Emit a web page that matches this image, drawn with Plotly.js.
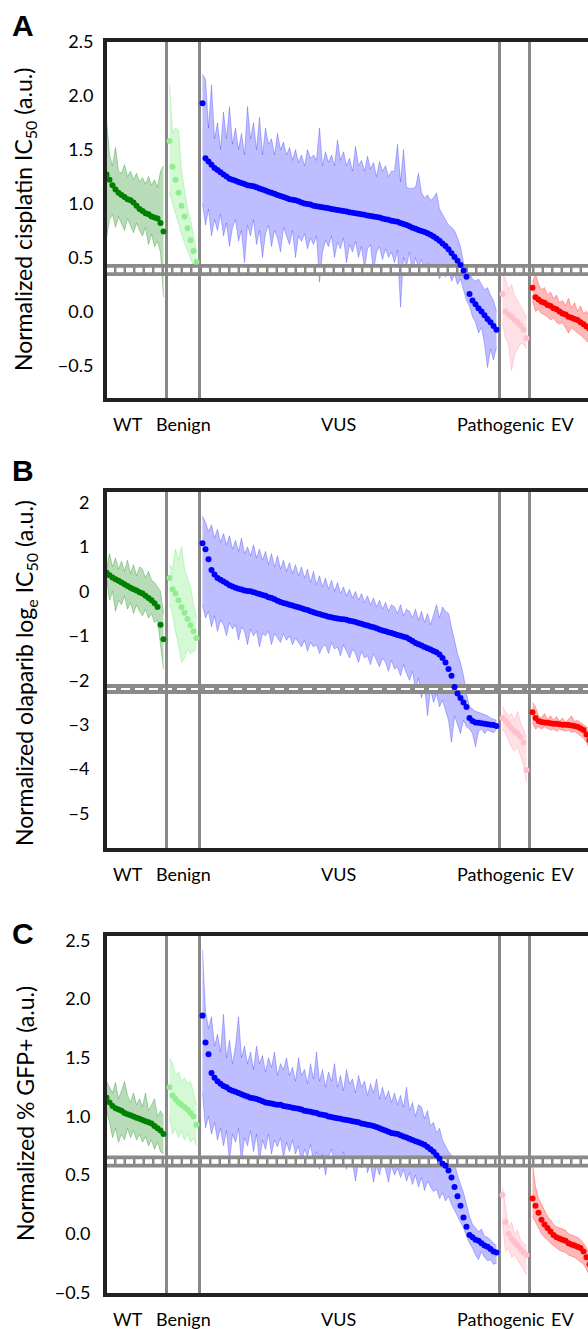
<!DOCTYPE html>
<html><head><meta charset="utf-8">
<script src="https://cdn.plot.ly/plotly-3.0.1.min.js"></script>
<style>html,body{margin:0;padding:0;overflow:hidden;background:#fff;width:588px;height:1329px}#chart{width:640px;height:1329px}</style>
</head><body><div id="chart"></div><script>
// ---------------- DATA ----------------
const categories = ['WT','Benign','VUS','Pathogenic','EV'];
const yTitles = ['Normalized cisplatin IC<sub>50</sub> (a.u.)','Normalized olaparib log<sub>e</sub> IC<sub>50</sub> (a.u.)','Normalized % GFP+ (a.u.)'];
const panelLetters = ['A','B','C'];
const yTicksA = [-0.5,0,0.5,1,1.5,2,2.5];
const yTicksB = [-5,-4,-3,-2,-1,0,1,2];
const yTicksC = [-0.5,0,0.5,1,1.5,2,2.5];
const thresholds = [0.3835,-2.198,0.616];

// Panel A: cisplatin
const A_WT_mean=[1.27,1.22,1.17,1.13,1.10,1.08,1.06,1.04,1.03,1.01,0.98,0.95,0.93,0.91,0.90,0.88,0.87,0.86,0.82,0.74];
const A_WT_hi=[1.78,1.45,1.35,1.52,1.3,1.28,1.36,1.25,1.3,1.22,1.28,1.2,1.24,1.18,1.25,1.17,1.22,1.15,1.30,1.35];
const A_WT_lo=[0.68,0.85,0.9,0.78,0.88,0.82,0.75,0.86,0.8,0.73,0.82,0.75,0.7,0.78,0.62,0.72,0.6,0.65,0.55,0.13];
const A_BE_mean=[1.58,1.34,1.22,1.1,0.98,0.88,0.77,0.66,0.56,0.46];
const A_BE_hi=[2.1,1.65,1.7,1.68,1.3,1.1,0.95,0.85,0.7,0.55];
const A_BE_lo=[1.1,1.0,0.9,0.8,0.72,0.64,0.56,0.48,0.42,0.38];
const A_VUS_mean=[1.93,1.42,1.39,1.36,1.33,1.31,1.29,1.27,1.25,1.23,
 1.22,1.21,1.20,1.19,1.18,1.17,1.165,1.16,1.15,1.14,
 1.13,1.12,1.11,1.10,1.09,1.08,1.07,1.06,1.05,1.04,
 1.035,1.03,1.02,1.01,1.00,0.995,0.99,0.98,0.975,0.97,
 0.965,0.96,0.955,0.95,0.945,0.94,0.935,0.93,0.925,0.92,
 0.915,0.91,0.905,0.90,0.895,0.89,0.885,0.88,0.875,0.87,
 0.86,0.855,0.85,0.84,0.835,0.83,0.82,0.81,0.80,0.79,
 0.775,0.765,0.755,0.745,0.735,0.725,0.71,0.695,0.675,0.655,
 0.63,0.605,0.575,0.54,0.505,0.47,0.43,0.38,0.32,0.16,
 0.10,0.065,0.03,0.0,-0.035,-0.07,-0.10,-0.135,-0.17];
const A_VUS_hi=[2.2,2.15,1.7,2.1,1.6,1.75,1.5,1.85,1.6,1.9,
 1.55,1.7,1.5,1.65,1.45,1.9,1.6,1.75,1.5,1.8,
 1.45,1.7,1.55,1.6,1.45,1.65,1.5,1.57,1.45,1.52,
 1.4,1.5,1.38,1.45,1.35,1.5,1.42,1.45,1.4,1.7,
 1.35,1.48,1.38,1.45,1.35,1.59,1.4,1.48,1.35,1.42,
 1.3,1.53,1.35,1.4,1.3,1.44,1.32,1.38,1.25,1.39,
 1.3,1.35,1.25,1.3,1.3,1.55,1.2,1.5,1.15,1.14,
 1.14,1.15,1.28,1.1,1.05,1.08,1.03,1.05,1.1,0.95,
 0.9,0.85,0.8,0.78,0.75,0.68,0.6,0.45,0.38,0.35,
 0.3,0.28,0.3,0.25,0.2,0.22,0.15,0.1,0.0];
const A_VUS_lo=[1.0,0.8,0.95,0.7,0.85,0.75,0.9,0.7,0.82,0.6,
 0.78,0.85,0.65,0.75,0.45,0.8,0.7,0.85,0.62,0.75,
 0.5,0.72,0.8,0.6,0.75,0.68,0.55,0.78,0.7,0.62,
 0.75,0.5,0.7,0.65,0.72,0.58,0.68,0.62,0.7,0.27,
 0.55,0.66,0.6,0.7,0.5,0.64,0.58,0.68,0.45,0.62,
 0.55,0.65,0.5,0.6,0.4,0.58,0.62,0.36,0.55,0.6,
 0.48,0.58,0.5,0.55,0.45,0.57,0.04,0.5,0.42,0.55,
 0.35,0.5,0.4,0.48,0.38,0.45,0.4,0.35,0.42,0.3,
 0.38,0.32,0.4,0.28,0.35,0.25,0.3,0.2,0.1,0.05,
 -0.05,-0.1,-0.2,-0.15,-0.3,-0.52,-0.35,-0.45,-0.33];
const A_PA_mean=[0.16,0.0,-0.03,-0.05,-0.08,-0.1,-0.13,-0.17,-0.25];
const A_PA_hi=[0.35,0.3,0.2,0.25,0.15,0.1,0.05,0.0,-0.05];
const A_PA_lo=[-0.1,-0.25,-0.3,-0.55,-0.4,-0.35,-0.3,-0.3,-0.35];
const A_EV_mean=[0.22,0.13,0.11,0.09,0.08,0.06,0.05,0.03,0.02,0.0,-0.02,-0.03,-0.05,-0.06,-0.07,-0.08,-0.1,-0.12,-0.14,-0.16,-0.2,-0.25];
const A_EV_hi=[0.27,0.35,0.25,0.2,0.22,0.15,0.18,0.12,0.15,0.08,0.1,0.05,0.12,0.03,0.08,0.0,0.05,-0.02,0.0,-0.05,-0.1,-0.15];
const A_EV_lo=[0.1,0.0,0.02,-0.02,-0.03,-0.05,-0.08,-0.06,-0.1,-0.12,-0.1,-0.15,-0.2,-0.15,-0.18,-0.2,-0.22,-0.25,-0.28,-0.3,-0.32,-0.35];

// Panel B: olaparib
const B_WT_mean=[0.42,0.36,0.31,0.27,0.24,0.2,0.16,0.12,0.08,0.05,0.02,-0.02,-0.05,-0.1,-0.15,-0.2,-0.27,-0.35,-0.75,-1.08];
const B_WT_hi=[0.5,0.85,0.55,0.75,0.5,0.68,0.45,0.7,0.4,0.6,0.35,0.55,0.5,0.3,0.45,0.25,0.2,0.1,0.0,-0.5];
const B_WT_lo=[0.3,-0.2,0.0,-0.45,-0.2,-0.3,-0.1,-0.4,-0.25,-0.5,-0.3,-0.45,-0.55,-0.4,-0.6,-0.5,-0.7,-0.65,-1.2,-1.75];
const B_BE_mean=[0.3,0.05,-0.05,-0.2,-0.35,-0.48,-0.62,-0.76,-0.9,-1.05];
const B_BE_hi=[0.6,0.5,0.95,0.7,1.0,0.5,0.3,0.1,-0.3,-0.6];
const B_BE_lo=[-0.3,-0.5,-0.9,-1.2,-1.6,-1.5,-1.3,-1.4,-1.35,-1.3];
const B_VUS_mean=[1.08,0.95,0.72,0.48,0.38,0.3,0.26,0.22,0.18,0.14,
 0.11,0.08,0.06,0.04,0.02,0.01,0.0,-0.02,-0.04,-0.06,
 -0.08,-0.1,-0.13,-0.15,-0.18,-0.21,-0.24,-0.26,-0.28,-0.3,
 -0.32,-0.34,-0.36,-0.38,-0.4,-0.42,-0.45,-0.47,-0.49,-0.51,
 -0.53,-0.55,-0.57,-0.58,-0.6,-0.61,-0.62,-0.63,-0.64,-0.66,
 -0.67,-0.69,-0.71,-0.73,-0.75,-0.77,-0.79,-0.81,-0.83,-0.86,
 -0.88,-0.9,-0.92,-0.94,-0.96,-0.98,-1.0,-1.02,-1.04,-1.08,
 -1.12,-1.16,-1.19,-1.22,-1.25,-1.28,-1.31,-1.34,-1.37,-1.42,
 -1.5,-1.6,-1.75,-1.9,-2.15,-2.3,-2.4,-2.5,-2.6,-2.85,
 -2.92,-2.95,-2.96,-2.97,-2.98,-2.99,-3.0,-3.01,-3.03];
const B_VUS_hi=[1.7,1.55,1.35,1.5,1.2,1.4,1.1,1.3,1.05,1.25,
 0.95,1.15,0.9,1.2,0.85,1.0,0.8,1.05,0.75,0.95,
 0.7,0.9,0.6,0.85,0.55,0.8,0.5,0.7,0.45,0.65,
 0.4,0.6,0.35,0.55,0.3,0.5,0.2,0.45,0.15,0.35,
 0.1,0.3,0.05,0.25,0.0,0.2,-0.05,0.1,-0.1,0.05,
 -0.15,0.0,-0.2,-0.05,-0.25,-0.1,-0.3,-0.15,-0.35,-0.2,
 -0.4,-0.25,-0.45,-0.3,-0.35,-0.5,-0.3,-0.55,-0.4,-0.45,
 -0.6,-0.4,-0.65,-0.45,-0.7,-0.5,-0.75,-0.5,-0.3,-0.6,
 -0.35,-0.45,-0.5,-0.8,-1.1,-1.4,-1.6,-1.9,-2.3,-2.6,
 -2.65,-2.7,-2.72,-2.75,-2.78,-2.8,-2.85,-2.88,-2.9];
const B_VUS_lo=[-0.3,-0.6,-0.45,-0.8,-0.55,-0.9,-0.65,-0.75,-1.0,-0.7,
 -0.85,-0.75,-1.1,-0.8,-0.9,-1.2,-0.85,-1.0,-0.9,-1.25,
 -0.95,-1.0,-0.9,-1.2,-0.95,-1.05,-1.15,-0.95,-1.1,-1.0,
 -1.2,-1.05,-1.15,-1.25,-1.1,-1.35,-1.15,-1.25,-1.2,-1.4,
 -1.25,-1.2,-1.4,-1.15,-1.3,-1.25,-1.45,-1.2,-1.35,-1.5,
 -1.3,-1.4,-1.6,-1.35,-1.5,-1.45,-1.65,-1.4,-1.55,-1.7,
 -1.5,-1.6,-1.8,-1.55,-1.75,-1.7,-1.9,-1.65,-1.85,-2.0,
 -1.8,-2.2,-1.95,-2.4,-2.1,-2.8,-2.2,-2.5,-2.3,-2.6,
 -2.45,-2.7,-2.9,-3.4,-2.8,-3.0,-3.2,-2.9,-3.05,-3.1,
 -3.2,-3.5,-3.15,-3.1,-3.2,-3.12,-3.15,-3.18,-3.1];
const B_PA_mean=[-2.85,-2.92,-3.0,-3.08,-3.15,-3.2,-3.28,-3.4,-4.02];
const B_PA_hi=[-2.6,-2.7,-2.8,-2.75,-2.9,-2.7,-2.95,-3.1,-3.3];
const B_PA_lo=[-3.1,-3.2,-3.35,-3.5,-3.6,-3.5,-3.7,-3.9,-4.3];
const B_EV_mean=[-2.72,-2.85,-2.92,-2.94,-2.95,-2.96,-2.97,-2.98,-2.98,-2.99,-3.0,-3.0,-3.01,-3.02,-3.03,-3.05,-3.08,-3.12,-3.22,-3.35,-3.5,-3.6];
const B_EV_hi=[-2.5,-2.6,-2.8,-2.85,-2.75,-2.88,-2.8,-2.9,-2.82,-2.92,-2.85,-2.95,-2.88,-2.8,-2.93,-2.9,-2.95,-3.0,-3.05,-3.1,-3.2,-3.3];
const B_EV_lo=[-2.95,-3.1,-3.05,-3.1,-3.05,-3.08,-3.12,-3.1,-3.15,-3.1,-3.12,-3.15,-3.12,-3.18,-3.15,-3.2,-3.25,-3.3,-3.4,-3.55,-3.7,-3.85];

// Panel C: % GFP+
const C_WT_mean=[1.16,1.12,1.09,1.07,1.06,1.05,1.03,1.02,1.01,1.0,0.99,0.98,0.97,0.96,0.95,0.94,0.92,0.9,0.88,0.85];
const C_WT_hi=[1.3,1.25,1.2,1.29,1.15,1.22,1.3,1.18,1.12,1.2,1.1,1.15,1.08,1.2,1.05,1.1,1.15,1.0,1.05,1.0];
const C_WT_lo=[1.05,0.95,0.82,0.9,0.78,0.85,0.8,0.9,0.82,0.88,0.8,0.85,0.78,0.83,0.75,0.8,0.72,0.78,0.7,0.68];
const C_BE_mean=[1.25,1.18,1.15,1.12,1.1,1.08,1.06,1.03,1.0,0.93];
const C_BE_hi=[1.5,1.45,1.35,1.38,1.3,1.33,1.28,1.3,1.2,1.1];
const C_BE_lo=[1.0,0.85,0.9,0.82,0.88,0.8,0.85,0.78,0.82,0.75];
const C_VUS_mean=[1.86,1.63,1.53,1.37,1.33,1.3,1.28,1.26,1.25,1.23,
 1.22,1.21,1.2,1.19,1.18,1.17,1.16,1.155,1.15,1.14,
 1.13,1.12,1.115,1.11,1.105,1.1,1.1,1.09,1.085,1.08,
 1.075,1.07,1.065,1.06,1.05,1.045,1.04,1.035,1.03,1.02,
 1.015,1.01,1.0,0.995,0.99,0.985,0.98,0.975,0.97,0.965,
 0.96,0.955,0.95,0.94,0.935,0.93,0.925,0.92,0.91,0.9,
 0.89,0.88,0.87,0.86,0.855,0.85,0.84,0.83,0.82,0.81,
 0.8,0.79,0.78,0.77,0.76,0.74,0.72,0.7,0.67,0.64,
 0.6,0.58,0.54,0.48,0.4,0.32,0.24,0.14,0.06,-0.01,
 -0.03,-0.05,-0.06,-0.08,-0.1,-0.11,-0.13,-0.15,-0.16];
const C_VUS_hi=[2.42,1.9,1.75,1.85,1.6,1.7,1.55,1.87,1.5,1.65,
 1.45,1.6,1.85,1.5,1.6,1.45,1.55,1.4,1.6,1.45,
 1.52,1.38,1.5,1.42,1.55,1.35,1.45,1.4,1.5,1.35,
 1.42,1.3,1.5,1.35,1.4,1.28,1.45,1.32,1.55,1.3,
 1.4,1.25,1.38,1.3,1.45,1.25,1.35,1.22,1.4,1.28,
 1.32,1.2,1.35,1.25,1.3,1.18,1.28,1.2,1.32,1.15,
 1.25,1.15,1.22,1.12,1.2,1.1,1.18,1.08,1.25,1.05,
 1.12,1.0,1.1,1.08,0.98,1.05,0.92,0.95,0.86,0.9,
 0.8,0.75,0.7,0.67,0.6,0.5,0.43,0.35,0.25,0.15,
 0.08,0.05,0.02,0.04,-0.02,-0.03,-0.05,-0.08,-0.1];
const C_VUS_lo=[1.2,0.9,1.0,0.85,0.95,0.8,0.9,0.75,0.88,0.62,
 0.85,0.78,0.9,0.6,0.82,0.75,0.88,0.7,0.85,0.61,
 0.8,0.72,0.85,0.68,0.8,0.74,0.82,0.65,0.78,0.7,
 0.8,0.68,0.75,0.6,0.72,0.66,0.76,0.62,0.7,0.55,
 0.68,0.5,0.65,0.72,0.6,0.66,0.58,0.7,0.55,0.64,
 0.6,0.45,0.62,0.56,0.66,0.52,0.6,0.44,0.58,0.5,
 0.62,0.55,0.44,0.58,0.5,0.56,0.48,0.55,0.45,0.52,
 0.42,0.5,0.4,0.48,0.37,0.45,0.4,0.36,0.38,0.3,
 0.35,0.28,0.32,0.25,0.2,0.15,0.1,0.05,-0.02,-0.08,
 -0.12,-0.18,-0.22,-0.15,-0.2,-0.23,-0.22,-0.26,-0.25];
const C_PA_mean=[0.33,0.1,0.0,-0.04,-0.07,-0.1,-0.13,-0.16,-0.18];
const C_PA_hi=[0.4,0.2,0.05,0.1,0.0,0.03,-0.05,-0.08,-0.1];
const C_PA_lo=[0.1,-0.15,-0.12,-0.2,-0.18,-0.22,-0.25,-0.3,-0.35];
const C_EV_mean=[0.3,0.24,0.18,0.12,0.08,0.05,0.02,-0.01,-0.03,-0.04,-0.05,-0.06,-0.08,-0.09,-0.1,-0.11,-0.12,-0.15,-0.2,-0.26,-0.32,-0.36];
const C_EV_hi=[0.6,0.4,0.3,0.25,0.2,0.15,0.12,0.08,0.06,0.05,0.04,0.03,0.0,-0.01,-0.02,-0.03,-0.05,-0.08,-0.12,-0.18,-0.22,-0.26];
const C_EV_lo=[0.15,0.1,0.05,0.0,-0.03,-0.05,-0.08,-0.1,-0.12,-0.14,-0.15,-0.16,-0.18,-0.19,-0.2,-0.22,-0.24,-0.26,-0.3,-0.36,-0.42,-0.46];

// ---------------- STYLE / LAYOUT ----------------
const H = 1329, W = 640, ML = 107, MR = 10;
const PX0 = 105, PXU = 3;
const u0 = (ML - PX0) / PXU - 0.5, u1 = (W - MR - PX0) / PXU - 0.5;
const FONT = 'Lato, "Open Sans", sans-serif';
const dotColors = ['#008000','#90ee90','#0000ff','#ffc0cb','#ff0000'];
const bandFill = ['rgba(0,128,0,0.28)','rgba(144,238,144,0.38)','rgba(0,0,255,0.26)','rgba(255,182,193,0.42)','rgba(255,0,0,0.28)'];
const bandLine = ['rgba(0,128,0,0.30)','rgba(144,238,144,0.55)','rgba(0,0,255,0.25)','rgba(255,182,193,0.6)','rgba(255,0,0,0.3)'];
const labelU = [7.3, 25.6, 77.3, 131.4, 152];

const panels = [
  {groups:[[A_WT_mean,A_WT_hi,A_WT_lo],[A_BE_mean,A_BE_hi,A_BE_lo],[A_VUS_mean,A_VUS_hi,A_VUS_lo],[A_PA_mean,A_PA_hi,A_PA_lo],[A_EV_mean,A_EV_hi,A_EV_lo]],
   yr:[-0.803,2.502], tv:yTicksA, fmt:'.1f', top:41.5, bot:398, titleY:220, letterY:25, labY:424, bandW:12, dashW:4.5, dash:'7px,2.5px', tl:6},
  {groups:[[B_WT_mean,B_WT_hi,B_WT_lo],[B_BE_mean,B_BE_hi,B_BE_lo],[B_VUS_mean,B_VUS_hi,B_VUS_lo],[B_PA_mean,B_PA_hi,B_PA_lo],[B_EV_mean,B_EV_hi,B_EV_lo]],
   yr:[-5.783,2.243], tv:yTicksB, fmt:'d', top:491.7, bot:848.3, titleY:673, letterY:470, labY:874, bandW:10, dashW:2, dash:'9px,5px', tl:10},
  {groups:[[C_WT_mean,C_WT_hi,C_WT_lo],[C_BE_mean,C_BE_hi,C_BE_lo],[C_VUS_mean,C_VUS_hi,C_VUS_lo],[C_PA_mean,C_PA_hi,C_PA_lo],[C_EV_mean,C_EV_hi,C_EV_lo]],
   yr:[-0.507,2.541], tv:yTicksC, fmt:'.1f', top:935.7, bot:1293.3, titleY:1114, letterY:933, labY:1319, bandW:12, dashW:4.5, dash:'7px,2.5px', tl:9}
];

// group x positions (index based, one empty slot between groups)
const sizes = panels[0].groups.map(g => g[0].length);
const starts = []; { let s = 0; sizes.forEach(n => { starts.push(s); s += n + 1; }); }
const bounds = starts.slice(1).map(v => v - 1);
const xsFor = g => Array.from({length: sizes[g]}, (_, k) => starts[g] + k);

const traces = [];
const layout = {
  width: W, height: H, margin: {l: ML, r: MR, t: 0, b: 0},
  paper_bgcolor: '#fff', plot_bgcolor: '#fff', showlegend: false,
  font: {family: FONT, size: 18, color: '#000'},
  annotations: []
};

panels.forEach((p, pi) => {
  const sfx = pi === 0 ? '' : String(pi + 1);
  const xa = 'x' + sfx, ya = 'y' + sfx;
  // replicate spread bands
  p.groups.forEach((g, gi) => {
    const xs = xsFor(gi);
    traces.push({x: xs, y: g[1], xaxis: xa, yaxis: ya, mode: 'lines', line: {color: bandLine[gi], width: 1}, hoverinfo: 'skip'});
    traces.push({x: xs, y: g[2], xaxis: xa, yaxis: ya, mode: 'lines', fill: 'tonexty', fillcolor: bandFill[gi], line: {color: bandLine[gi], width: 1}, hoverinfo: 'skip'});
  });
  // threshold band
  traces.push({x: [u0, u1], y: [thresholds[pi], thresholds[pi]], xaxis: xa, yaxis: ya, mode: 'lines', line: {color: '#8a8a8a', width: p.bandW}, hoverinfo: 'skip'});
  traces.push({x: [u0, u1], y: [thresholds[pi], thresholds[pi]], xaxis: xa, yaxis: ya, mode: 'lines', line: {color: '#ffffff', width: p.dashW, dash: p.dash}, hoverinfo: 'skip'});
  // group separators
  const vx = [], vy = [];
  bounds.forEach(b => { vx.push(b, b, null); vy.push(p.yr[0], p.yr[1], null); });
  traces.push({x: vx, y: vy, xaxis: xa, yaxis: ya, mode: 'lines', line: {color: '#888888', width: 3}, hoverinfo: 'skip'});
  // means
  p.groups.forEach((g, gi) => {
    traces.push({x: xsFor(gi), y: g[0], xaxis: xa, yaxis: ya, mode: 'markers', marker: {color: dotColors[gi], size: 6, line: {width: 0}}, hoverinfo: 'skip'});
  });

  const dom = [1 - p.bot / H, 1 - p.top / H];
  layout['xaxis' + sfx] = {domain: [0, 1], range: [u0, u1], anchor: ya, showline: true, mirror: true, linewidth: 4, linecolor: '#222222',
    showgrid: false, zeroline: false, showticklabels: false, ticks: ''};
  layout['yaxis' + sfx] = {domain: dom, range: p.yr, anchor: xa, showline: true, mirror: true, linewidth: 4, linecolor: '#222222',
    showgrid: false, zeroline: false, tickvals: p.tv, tickformat: p.fmt, ticks: 'outside', ticklen: p.tl, tickcolor: 'rgba(0,0,0,0)',
    tickfont: {family: FONT, size: 18, color: '#000'}};

  // category labels
  categories.forEach((c, ci) => {
    layout.annotations.push({text: c, x: labelU[ci], xref: xa, y: 1 - p.labY / H, yref: 'paper', showarrow: false,
      xanchor: 'center', yanchor: 'middle', font: {family: FONT, size: 18, color: '#000'}});
  });
  // y title
  layout.annotations.push({text: yTitles[pi], x: (25 - ML) / (W - ML - MR), xref: 'paper', y: 1 - p.titleY / H, yref: 'paper',
    showarrow: false, textangle: -90, xanchor: 'center', yanchor: 'middle', font: {family: FONT, size: 23, color: '#000'}});
  // panel letter
  layout.annotations.push({text: '<b>' + panelLetters[pi] + '</b>', x: (22.5 - ML) / (W - ML - MR), xref: 'paper', y: 1 - p.letterY / H, yref: 'paper',
    showarrow: false, xanchor: 'center', yanchor: 'middle', font: {family: '"Liberation Sans", Arial, sans-serif', size: 30, color: '#000'}});
});

Plotly.newPlot('chart', traces, layout, {displayModeBar: false, staticPlot: true});
</script></body></html>
